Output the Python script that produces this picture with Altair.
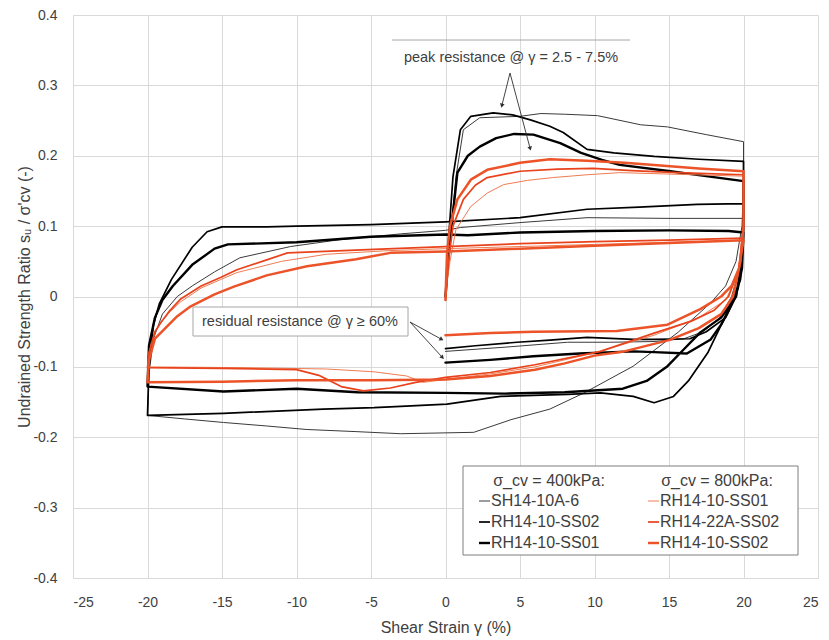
import altair as alt
import pandas as pd
import math

# ---------------- data ----------------
X_TICKS = [-25, -20, -15, -10, -5, 0, 5, 10, 15, 20, 25]
Y_TICKS = [-0.4, -0.3, -0.2, -0.1, 0, 0.1, 0.2, 0.3, 0.4]

# sigma_cv = 400 kPa
SH14_10A_6_X = [0, 0.1, 0.3, 0.7, 1.2, 2.3, 5, 6.4, 8, 10.2, 13.1, 14.9, 17.5, 20,
                20, 19.9, 19.5, 18.8, 17.8, 15.6, 12.6, 9.3, 7, 4.4, 1.9, -3, -6, -9.3, -12, -14.9, -17.5, -20,
                -19.9, -19.6, -19, -18, -17, -15.5, -13.8, -10.4, -7, -3, 0, 1, 5, 9.5, 15, 20,
                19.9, 19.6, 19.2, 18.4, 17.3, 16, 14, 11, 8.2, 4, 0]
SH14_10A_6_Y = [0, 0.03, 0.08, 0.17, 0.237, 0.254, 0.256, 0.26, 0.259, 0.257, 0.244, 0.241, 0.23, 0.22,
                0.16, 0.1, 0.05, 0.015, -0.009, -0.051, -0.099, -0.137, -0.16, -0.175, -0.193, -0.195, -0.192, -0.189, -0.184, -0.179, -0.174, -0.169,
                -0.11, -0.06, -0.025, 0.0, 0.015, 0.035, 0.055, 0.071, 0.081, 0.089, 0.094, 0.098, 0.105, 0.112, 0.111, 0.111,
                0.06, 0.03, 0.0, -0.03, -0.05, -0.06, -0.064, -0.065, -0.065, -0.072, -0.078]

RH14_10_SS02_400_X = [0, 0.1, 0.2, 0.5, 1, 1.7, 3.2, 4.5, 5.7, 7, 7.9, 9.5, 11.3, 14, 17, 20,
                      20, 19.9, 19.8, 18.9, 17.6, 16.3, 15.3, 14, 12.6, 10.4, 8.2, 3.7, 0.1, -3, -4.8, -8.2, -14.9, -20,
                      -19.9, -19.6, -19.2, -18.4, -17, -16, -15, -12, -10, -5, 0, 5, 9.5, 13, 16.9, 20,
                      19.9, 19.5, 18.8, 17.5, 16.4, 14, 12.6, 9.5, 7, 4.8, 2, 0]
RH14_10_SS02_400_Y = [0, 0.03, 0.08, 0.17, 0.237, 0.256, 0.261, 0.258, 0.251, 0.242, 0.233, 0.209, 0.204, 0.199, 0.195, 0.192,
                      0.12, 0.06, 0.024, -0.023, -0.08, -0.12, -0.142, -0.151, -0.142, -0.137, -0.139, -0.142, -0.153, -0.156, -0.158, -0.16, -0.166, -0.169,
                      -0.1, -0.04, -0.01, 0.024, 0.07, 0.092, 0.099, 0.099, 0.1, 0.102, 0.106, 0.112, 0.124, 0.127, 0.131, 0.132,
                      0.05, 0.0, -0.03, -0.05, -0.06, -0.061, -0.061, -0.058, -0.062, -0.065, -0.07, -0.074]

RH14_10_SS01_400_X = [0, 0.1, 0.3, 0.8, 1.5, 2.3, 3.4, 4.6, 5.9, 7.7, 9.1, 10.5, 11.7, 15.1, 17.5, 20,
                      20, 19.9, 19.5, 18.5, 17.1, 16, 14.9, 13.5, 11.9, 8, 4, 0, -5.9, -10, -14.9, -20,
                      -19.9, -19.5, -19, -18.3, -17, -15.5, -14.6, -10, -5, 0, 1.5, 5, 10, 15, 19, 20,
                      19.9, 19.6, 19, 18.5, 17.8, 16.2, 14, 12.6, 9, 5.9, 3, 0]
RH14_10_SS01_400_Y = [0, 0.03, 0.08, 0.176, 0.2, 0.213, 0.225, 0.231, 0.23, 0.218, 0.204, 0.194, 0.187, 0.178, 0.171, 0.164,
                      0.1, 0.05, 0.0, -0.03, -0.051, -0.075, -0.099, -0.12, -0.131, -0.136, -0.138, -0.137, -0.136, -0.131, -0.135, -0.128,
                      -0.07, -0.03, -0.005, 0.015, 0.045, 0.068, 0.074, 0.077, 0.085, 0.088, 0.087, 0.091, 0.093, 0.094, 0.093, 0.091,
                      0.04, 0.01, -0.02, -0.04, -0.061, -0.081, -0.079, -0.078, -0.081, -0.085, -0.09, -0.094]

# sigma_cv = 800 kPa
RH14_10_SS01_800_X = [0, 0.1, 0.3, 0.7, 1.7, 2.8, 3.9, 5.5, 7.2, 9.5, 11.7, 15, 20,
                      20, 19.6, 18.8, 17, 14, 10, 6, 3, 0, -1.5, -2.6, -4.8, -8, -14, -20,
                      -19.9, -19.5, -19.1, -18.5, -17.8, -16.4, -15.1, -14, -11, -8, -4, 0, 5, 10, 15, 20]
RH14_10_SS01_800_Y = [-0.005, 0.02, 0.05, 0.095, 0.128, 0.147, 0.159, 0.165, 0.169, 0.173, 0.176, 0.174, 0.171,
                      0.1, 0.03, -0.005, -0.03, -0.055, -0.08, -0.1, -0.11, -0.118, -0.122, -0.113, -0.107, -0.103, -0.101, -0.1,
                      -0.08, -0.05, -0.037, -0.022, -0.008, 0.012, 0.024, 0.034, 0.05, 0.06, 0.065, 0.068, 0.071, 0.074, 0.077, 0.08]

RH14_22A_SS02_X = [0, 0.1, 0.2, 0.5, 1.2, 2, 2.8, 5, 7.5, 9.9, 12.5, 15.6, 20,
                   20, 19.7, 19, 18, 16.5, 14, 10.4, 6, 3, 0, -2, -3.7, -5.5, -7, -8.5, -10, -15, -20,
                   -19.9, -19.5, -19.1, -18.5, -17.8, -16.4, -15.1, -14, -12, -10.6, -4.8, 0, 5, 10, 15, 20]
RH14_22A_SS02_Y = [-0.005, 0.02, 0.05, 0.1, 0.138, 0.158, 0.169, 0.178, 0.181, 0.182, 0.179, 0.176, 0.173,
                   0.1, 0.04, 0.0, -0.02, -0.035, -0.052, -0.078, -0.097, -0.108, -0.115, -0.122, -0.13, -0.134, -0.128, -0.112, -0.104, -0.102, -0.101,
                   -0.08, -0.05, -0.037, -0.02, -0.004, 0.015, 0.027, 0.038, 0.052, 0.062, 0.067, 0.071, 0.075, 0.078, 0.08, 0.083]

RH14_10_SS02_800_X = [0, 0.05, 0.1, 0.3, 0.8, 1.7, 2.8, 5, 7, 9.5, 12, 14, 17, 20,
                      20, 19.8, 19.3, 18.5, 17, 15, 12, 10, 8, 6, 3, 0, -5, -10, -15, -20,
                      -19.9, -19.5, -18.9, -18, -17.1, -15.5, -14.2, -12, -9.3, -6, -3.7, 0, 5, 10, 15, 20,
                      19.7, 19.2, 18.5, 17.1, 14.9, 11.5, 5.9, 3, 0]
RH14_10_SS02_800_Y = [-0.005, 0.03, 0.06, 0.1, 0.138, 0.166, 0.18, 0.19, 0.195, 0.193, 0.19, 0.187, 0.182, 0.178,
                      0.1, 0.05, 0.0, -0.025, -0.045, -0.062, -0.078, -0.084, -0.095, -0.104, -0.113, -0.118, -0.119, -0.119, -0.121, -0.122,
                      -0.09, -0.06, -0.047, -0.028, -0.014, 0.003, 0.014, 0.03, 0.043, 0.053, 0.062, 0.064, 0.068, 0.072, 0.076, 0.08,
                      0.04, 0.015, 0.0, -0.018, -0.04, -0.049, -0.05, -0.052, -0.055]

SERIES = [
    # key, legend label, x, y, colour, width
    ("SH14-10A-6", "SH14-10A-6", SH14_10A_6_X, SH14_10A_6_Y, "#3a3a3a", 1.0),
    ("RH14-10-SS02 (400)", "RH14-10-SS02", RH14_10_SS02_400_X, RH14_10_SS02_400_Y, "#000000", 1.7),
    ("RH14-10-SS01 (400)", "RH14-10-SS01", RH14_10_SS01_400_X, RH14_10_SS01_400_Y, "#000000", 2.4),
    ("RH14-10-SS01 (800)", "RH14-10-SS01", RH14_10_SS01_800_X, RH14_10_SS01_800_Y, "#ef7c52", 1.0),
    ("RH14-22A-SS02", "RH14-22A-SS02", RH14_22A_SS02_X, RH14_22A_SS02_Y, "#e8431c", 1.7),
    ("RH14-10-SS02 (800)", "RH14-10-SS02", RH14_10_SS02_800_X, RH14_10_SS02_800_Y, "#ec5328", 2.5),
]

FONT = "Liberation Sans"
TXT = "#404040"
GRID = "#d9d9d9"

x_scale = alt.Scale(domain=[-25, 25], nice=False, zero=False)
y_scale = alt.Scale(domain=[-0.4, 0.4], nice=False, zero=False)

x_axis = alt.Axis(values=X_TICKS, labelExpr="toString(datum.value)", grid=True, ticks=False, tickSize=0,
                  labelPadding=17, titlePadding=10, title="Shear Strain γ (%)")
y_axis = alt.Axis(values=Y_TICKS, labelExpr="toString(datum.value)", grid=True, ticks=False, tickSize=0,
                  labelPadding=16, titleX=-41, titleY=281.5,
                  title="Undrained Strength Ratio sᵤ / σ'cv (-)")

layers = []
for key, lab, xs, ys, col, w in SERIES:
    df = pd.DataFrame({"series": key, "i": list(range(len(xs))), "x": xs, "y": ys})
    layers.append(
        alt.Chart(df).mark_line(color=col, strokeWidth=w, strokeJoin="round", strokeCap="round").encode(
            x=alt.X("x:Q", scale=x_scale, axis=x_axis),
            y=alt.Y("y:Q", scale=y_scale, axis=y_axis),
            order="i:Q",
        )
    )

one = pd.DataFrame({"a": [0]})


def rule(x1, y1, x2, y2, color="#404040", w=1.0):
    return alt.Chart(one).mark_rule(color=color, strokeWidth=w).encode(
        x=alt.value(x1), y=alt.value(y1), x2=alt.value(x2), y2=alt.value(y2))


def text(x, y, s, size=14.5, align="center", color=TXT):
    return alt.Chart(one).mark_text(font=FONT, fontSize=size, align=align, baseline="middle", color=color).encode(
        x=alt.value(x), y=alt.value(y), text=alt.value(s))


def arrow(x1, y1, x2, y2):
    ang = math.degrees(math.atan2(x2 - x1, -(y2 - y1))) % 360
    head = alt.Chart(one).mark_point(shape="triangle", filled=True, size=22, color="#303030", angle=ang, opacity=1).encode(
        x=alt.value(x2), y=alt.value(y2))
    return [rule(x1, y1, x2, y2, "#303030", 0.9), head]


# annotations (pixel positions inside the plot area)
ann = []
ann.append(rule(319, 25, 557, 25, "#a6a6a6", 1))
ann.append(text(438, 43, "peak resistance @ γ = 2.5 - 7.5%"))
ann += arrow(437, 58, 429, 90)
ann += arrow(437, 58, 457, 133)

ann.append(alt.Chart(one).mark_rect(fill="white", stroke="#a6a6a6", strokeWidth=1).encode(
    x=alt.value(120), x2=alt.value(335), y=alt.value(292), y2=alt.value(321)))
ann.append(text(227, 307, "residual resistance @ γ ≥ 60%"))
ann += arrow(337, 307, 368, 324)
ann += arrow(337, 307, 369, 342)

# legend
leg = []
leg.append(alt.Chart(one).mark_rect(fill="white", stroke="#7f7f7f", strokeWidth=1).encode(
    x=alt.value(390), x2=alt.value(725), y=alt.value(451), y2=alt.value(540)))
leg.append(text(476, 466, "σ_cv = 400kPa:", size=16))
leg.append(text(644, 466, "σ_cv = 800kPa:", size=16))
ROWS = [486, 507, 528]
for n, (key, lab, xs, ys, col, w) in enumerate(SERIES):
    colx = 406 if n < 3 else 575
    yy = ROWS[n % 3]
    leg.append(rule(colx, yy, colx + 11, yy, col, w))
    leg.append(text(colx + 12, yy, lab, size=16, align="left"))

chart = alt.layer(*layers, *ann, *leg).properties(
    width=745, height=563,
    autosize=alt.AutoSizeParams(type="none"),
    padding={"left": 65, "top": 7, "right": 3, "bottom": 60},
).configure_view(stroke=None).configure_axis(
    gridColor=GRID, gridWidth=1, domainColor=GRID, domainWidth=1,
    labelFont=FONT, labelFontSize=14, labelColor=TXT,
    titleFont=FONT, titleFontSize=16, titleFontWeight="normal", titleColor=TXT,
)

chart.save("out.html", embed_options={"renderer": "svg", "actions": False})
